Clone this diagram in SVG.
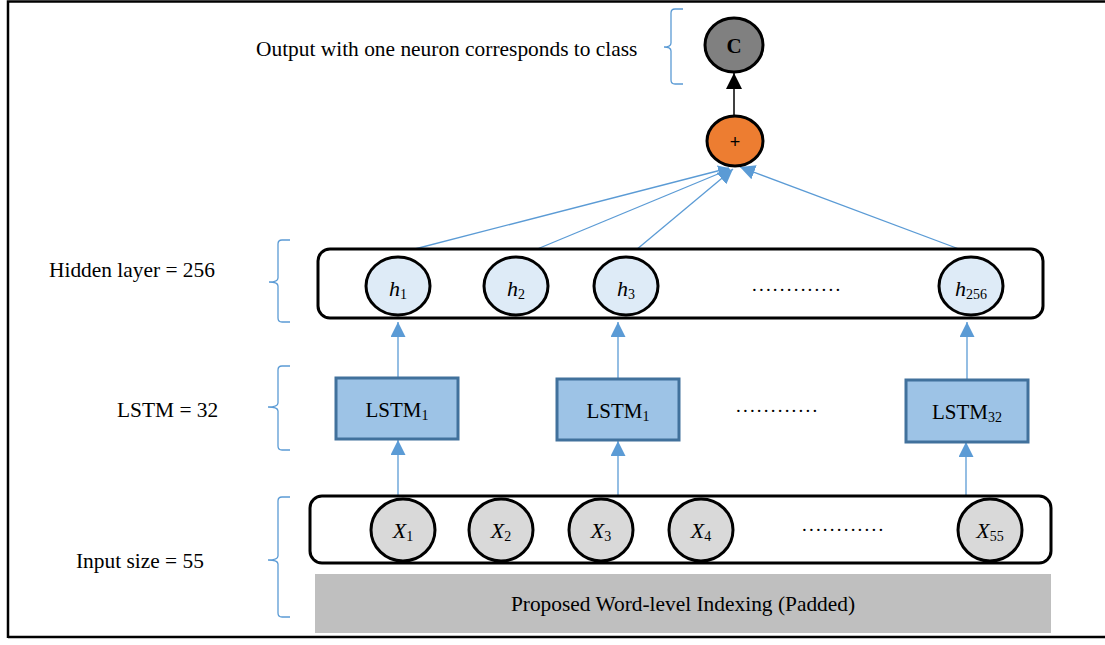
<svg xmlns="http://www.w3.org/2000/svg" width="1105" height="645" viewBox="0 0 1105 645">
<defs>
<style>
text{font-family:"Liberation Serif","Times New Roman",serif;fill:#000}
.lbl{font-size:21.4px}
.it{font-size:22px;font-style:italic;text-anchor:middle}
.sub{font-size:14px;font-style:normal}
.ls{font-size:21px;text-anchor:middle}
.dots{font-size:19px;letter-spacing:2.2px}
.brace{fill:none;stroke:#5B9BD5;stroke-width:1.3}
.hnode{fill:#DEEBF7;stroke:#000;stroke-width:3}
.xnode{fill:#D9D9D9;stroke:#000;stroke-width:3}
.lstm{fill:#9DC3E6;stroke:#41719C;stroke-width:3}
.cont{fill:#fff;stroke:#000;stroke-width:3}
.blue{stroke:#5B9BD5;stroke-width:1.3;fill:none}
</style>
<marker id="ab" viewBox="0 0 10 10" refX="10" refY="5" markerWidth="11" markerHeight="11" markerUnits="userSpaceOnUse" orient="auto"><path d="M0,0 L10,5 L0,10 z" fill="#5B9BD5"/></marker>
<marker id="abl" viewBox="0 0 10 10" refX="10" refY="5" markerWidth="15" markerHeight="15" markerUnits="userSpaceOnUse" orient="auto"><path d="M0,0 L10,5 L0,10 z" fill="#5B9BD5"/></marker>
<marker id="ak" viewBox="0 0 10 10" refX="10" refY="5" markerWidth="16" markerHeight="16" markerUnits="userSpaceOnUse" orient="auto"><path d="M0,0 L10,5 L0,10 z" fill="#000"/></marker>
</defs>
<rect width="1105" height="645" fill="#fff"/>
<g id="frame" stroke="#000" stroke-width="2.5" fill="none">
<path d="M8,638 V1.5 H1105"/>
<path d="M8,637 H1105"/>
</g>

<g id="labels">
<text class="lbl" x="256" y="56">Output with one neuron corresponds to class</text>
<text class="lbl" x="49" y="277">Hidden layer = 256</text>
<text class="lbl" x="117" y="417">LSTM = 32</text>
<text class="lbl" x="76" y="568">Input size = 55</text>
<path class="brace" d="M683,9 H675 Q671,9 671,13 V43 Q671,47 664,47 Q671,47 671,51 V80 Q671,84 675,84 H683"/>
<path class="brace" d="M290,240 H282 Q278,240 278,244 V278 Q278,282 269,282 Q278,282 278,286 V318 Q278,322 282,322 H290"/>
<path class="brace" d="M290,366 H282 Q278,366 278,370 V403 Q278,407 268,407 Q278,407 278,411 V446 Q278,450 282,450 H290"/>
<path class="brace" d="M290,497 H282 Q278,497 278,501 V556 Q278,560 268,560 Q278,560 278,564 V613 Q278,617 282,617 H290"/>
</g>

<g id="connectors">
<line class="blue" x1="407" y1="251" x2="729" y2="168" marker-end="url(#ab)"/>
<line class="blue" x1="530" y1="252" x2="730" y2="169" marker-end="url(#ab)"/>
<line class="blue" x1="630" y1="255" x2="733" y2="169" marker-end="url(#abl)"/>
<line class="blue" x1="967" y1="252" x2="740" y2="167" marker-end="url(#abl)"/>
<line class="blue" x1="398" y1="377" x2="398" y2="322" marker-end="url(#abl)"/>
<line class="blue" x1="618" y1="378" x2="618" y2="322" marker-end="url(#abl)"/>
<line class="blue" x1="967" y1="379" x2="967" y2="322" marker-end="url(#abl)"/>
<line class="blue" x1="398" y1="495" x2="398" y2="440" marker-end="url(#abl)"/>
<line class="blue" x1="618" y1="495" x2="618" y2="441" marker-end="url(#abl)"/>
<line class="blue" x1="966" y1="495" x2="966" y2="442" marker-end="url(#abl)"/>
<line x1="734" y1="116" x2="734" y2="73" stroke="#404040" stroke-width="2" marker-end="url(#ak)"/>
</g>

<g id="node-C">
<ellipse cx="734" cy="45" rx="29" ry="27" fill="#808080" stroke="#000" stroke-width="3"/>
<text x="734" y="53" font-size="21" font-weight="bold" text-anchor="middle">C</text>
</g>
<g id="node-plus">
<ellipse cx="735" cy="141" rx="28" ry="25" fill="#ED7D31" stroke="#000" stroke-width="3"/>
<text x="735" y="148" font-size="18" text-anchor="middle" style="font-family:'Liberation Sans',Arial,sans-serif">+</text>
</g>

<g id="hidden-layer">
<rect class="cont" x="318" y="249" width="725" height="69" rx="12"/>
</g>
<g id="h1"><ellipse class="hnode" cx="398" cy="286" rx="32" ry="29"/><text class="it" x="398" y="296">h<tspan class="sub" dy="3">1</tspan></text></g>
<g id="h2"><ellipse class="hnode" cx="516" cy="286" rx="32" ry="29"/><text class="it" x="516" y="296">h<tspan class="sub" dy="3">2</tspan></text></g>
<g id="h3"><ellipse class="hnode" cx="626" cy="286" rx="32" ry="29"/><text class="it" x="626" y="296">h<tspan class="sub" dy="3">3</tspan></text></g>
<g id="h256"><ellipse class="hnode" cx="971" cy="286" rx="32" ry="29"/><text class="it" x="971" y="296">h<tspan class="sub" dy="3">256</tspan></text></g>
<g id="h-dots"><text class="dots" x="752" y="291">.............</text></g>

<g id="lstm1"><rect class="lstm" x="336" y="378" width="122" height="61"/><text class="ls" x="397" y="417">LSTM<tspan class="sub" dy="3">1</tspan></text></g>
<g id="lstm2"><rect class="lstm" x="557" y="379" width="122" height="61"/><text class="ls" x="618" y="418">LSTM<tspan class="sub" dy="3">1</tspan></text></g>
<g id="lstm32"><rect class="lstm" x="906" y="380" width="122" height="62"/><text class="ls" x="967" y="419">LSTM<tspan class="sub" dy="3">32</tspan></text></g>
<g id="lstm-dots"><text class="dots" x="736" y="412">............</text></g>

<g id="input-layer">
<rect class="cont" x="310" y="496" width="741" height="67" rx="12"/>
</g>
<g id="x1"><ellipse class="xnode" cx="403" cy="530" rx="32" ry="31"/><text class="it" x="403" y="538">X<tspan class="sub" dy="3">1</tspan></text></g>
<g id="x2"><ellipse class="xnode" cx="501" cy="530" rx="32" ry="31"/><text class="it" x="501" y="538">X<tspan class="sub" dy="3">2</tspan></text></g>
<g id="x3"><ellipse class="xnode" cx="601" cy="530" rx="32" ry="31"/><text class="it" x="601" y="538">X<tspan class="sub" dy="3">3</tspan></text></g>
<g id="x4"><ellipse class="xnode" cx="701" cy="530" rx="32" ry="31"/><text class="it" x="701" y="538">X<tspan class="sub" dy="3">4</tspan></text></g>
<g id="x55"><ellipse class="xnode" cx="990" cy="530" rx="32" ry="31"/><text class="it" x="990" y="538">X<tspan class="sub" dy="3">55</tspan></text></g>
<g id="x-dots"><text class="dots" x="802" y="531">............</text></g>

<g id="indexing">
<rect x="315" y="574" width="736" height="59" fill="#BFBFBF"/>
<text class="lbl" x="683" y="611" text-anchor="middle">Proposed Word-level Indexing (Padded)</text>
</g>
</svg>
